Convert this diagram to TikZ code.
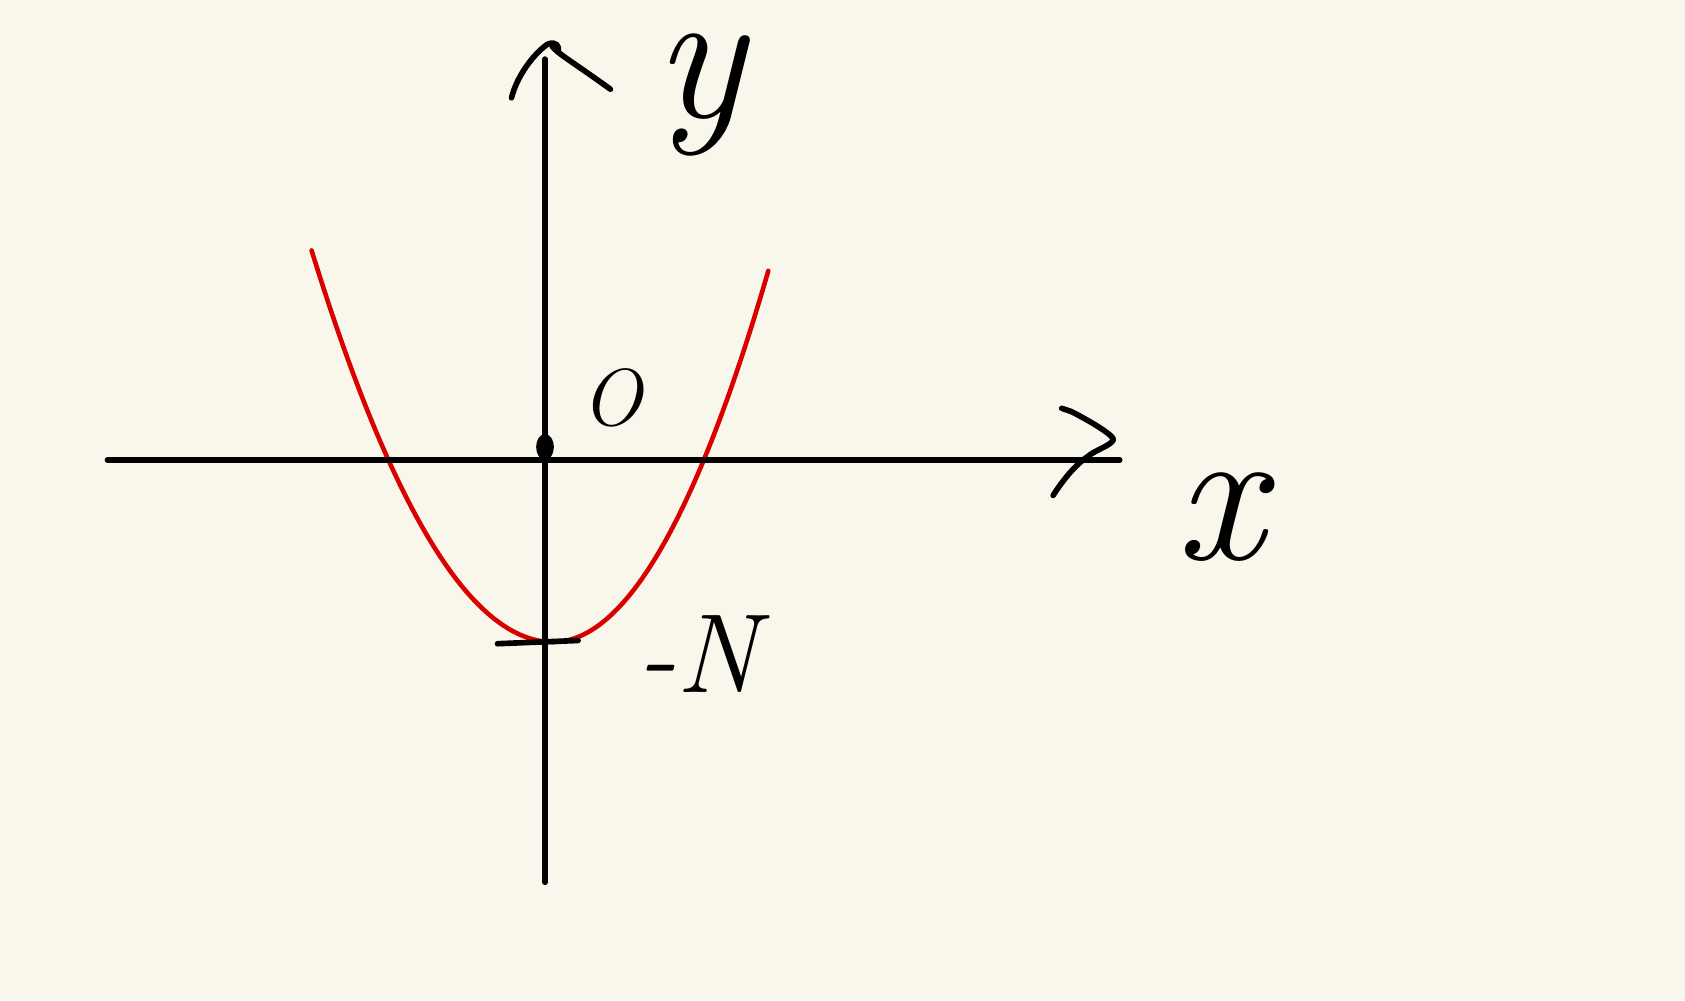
\documentclass[tikz,border=0pt]{standalone}
\usepackage{fontspec}
\begin{document}
\begin{tikzpicture}[x=0.01cm,y=-0.01cm,
  ink/.style={line width=1.6pt,black,line cap=round,line join=round},
  curve/.style={line width=1.3pt,red!85!black,line cap=round},
  lbl/.style={inner sep=0pt,text=black}]
\definecolor{paper}{RGB}{249,247,235}
\fill[paper] (0,0) rectangle (1685,1000);
\useasboundingbox (0,0) rectangle (1685,1000);
% axes
\coordinate (xl) at (107.5,460);
\coordinate (xr) at (1119.7,460);
\coordinate (yt) at (544.8,59.1);
\coordinate (yb) at (544.8,882.3);
% parabola
\draw[curve] (311.6,250.4) .. controls (392.1,511.5) and (472.5,642) .. (553,642)
  .. controls (624.8,642) and (696.5,518.3) .. (768.3,270.8);
\draw[ink] (xl) -- (xr);
\draw[ink] (yt) -- (yb);
% y arrowhead
\draw[ink] (511.5,97.8) .. controls (518,72) and (538,50) .. (548,44)
  .. controls (556,41) and (560,46) .. (558,52);
\draw[ink] (552,46) .. controls (558,54) and (570,60) .. (610.4,89.2);
% x arrowhead
\draw[ink] (1061.7,408.3) -- (1071.4,411.6) .. controls (1090,421) and (1115,436) .. (1113.3,440)
  .. controls (1110,446) and (1095,450) .. (1087.5,456.7)
  .. controls (1075,465) and (1063,480) .. (1053.1,495.4);
% origin blob
\draw[ink] (545,447) ellipse [x radius=6, y radius=10];
% vertex tick
\coordinate (tl) at (497.5,643.7);
\coordinate (tr) at (578.1,640.5);
\draw[ink] (tl) -- (tr);
% labels
\node[lbl,font=\fontsize{54}{56}\selectfont\itshape] (ylab) at (700,95) {y};
\node[lbl,font=\fontsize{56}{58}\selectfont\itshape] (xlab) at (1220,517) {x};
\node[lbl,font=\fontsize{23}{25}\selectfont\itshape] (olab) at (612,398) {O};
\node[lbl,font=\fontsize{32}{34}\selectfont\itshape] (nlab) at (698,654) {-N};
\end{tikzpicture}
\end{document}
